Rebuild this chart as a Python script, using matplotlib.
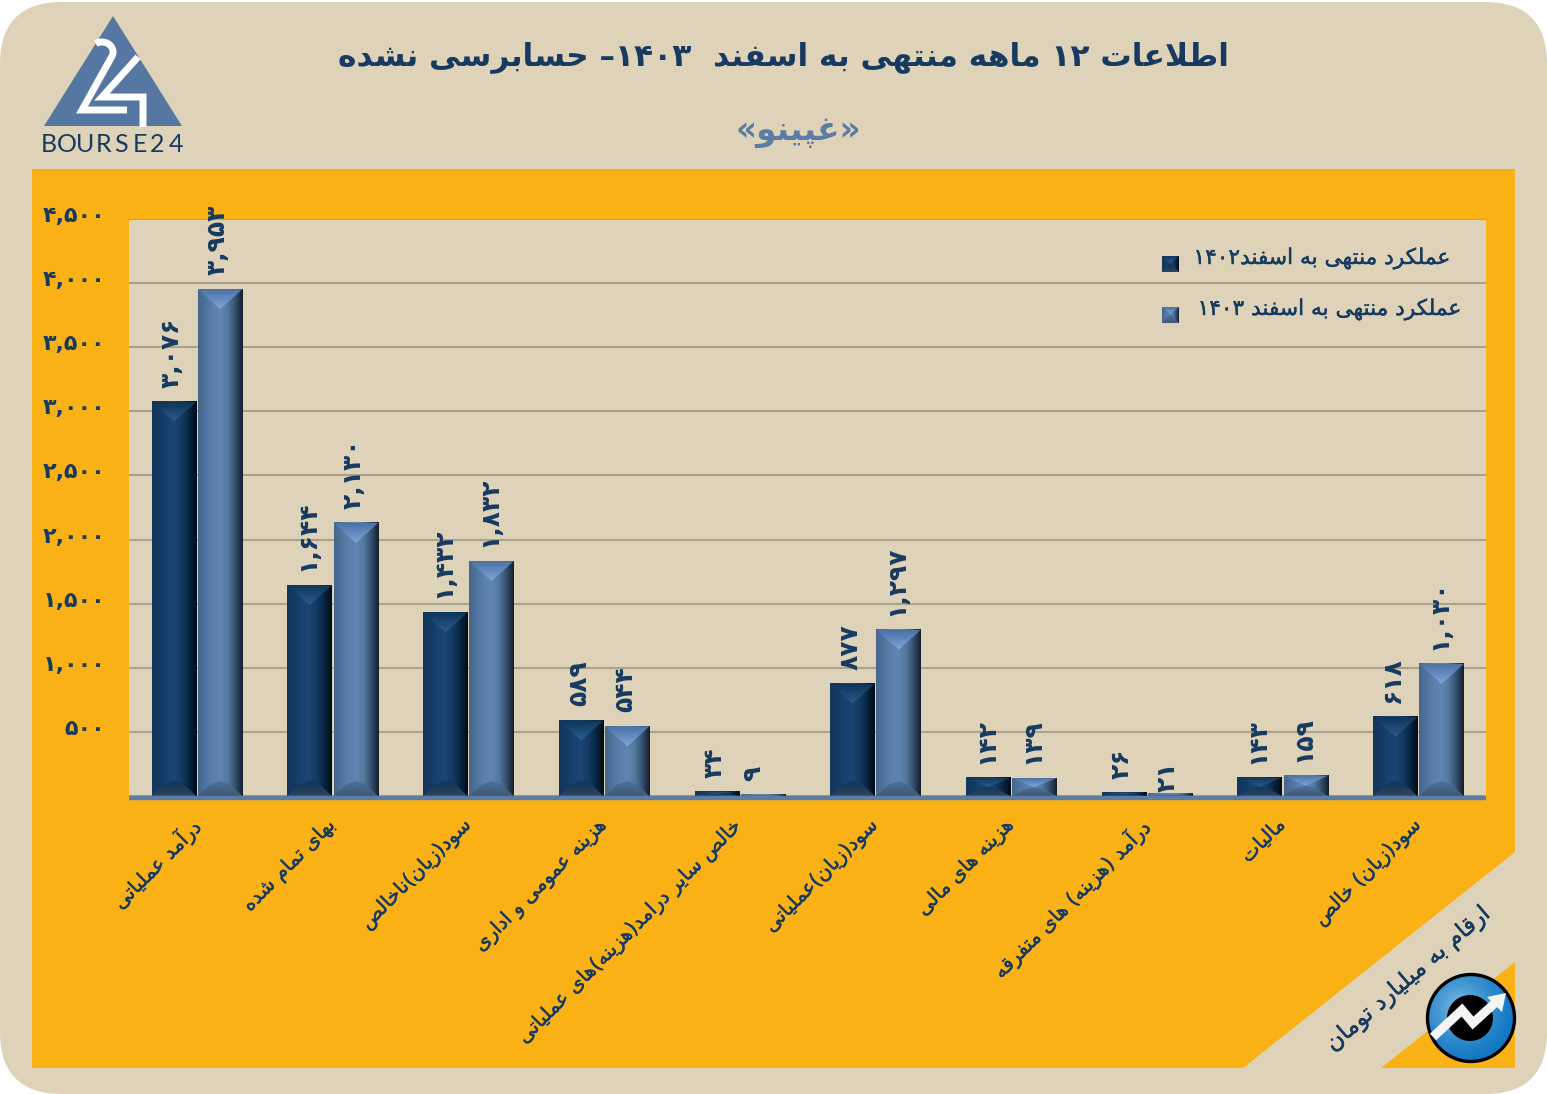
# Bourse24 style bar chart, 12 month figures (Persian labels)

import re
import numpy as np
import matplotlib
matplotlib.use('Agg')
import matplotlib.pyplot as plt
import matplotlib.patheffects as pe
from matplotlib.colors import to_rgb
from matplotlib.patches import Circle, FancyBboxPatch, Polygon
from matplotlib.transforms import ScaledTranslation

# === Data ===
title_text = 'اطلاعات ۱۲ ماهه منتهی به اسفند  ۱۴۰۳– حسابرسی نشده'
subtitle_text = '«غپینو»'
unit_text = 'ارقام به میلیارد تومان'
series_names = ['عملکرد منتهی به اسفند۱۴۰۲', 'عملکرد منتهی به اسفند ۱۴۰۳']
categories = [
    'درآمد عملیاتی',
    'بهای تمام شده',
    'سود(زیان)ناخالص',
    'هزینه عمومی و اداری',
    'خالص سایر درامد(هزینه)های عملیاتی',
    'سود(زیان)عملیاتی',
    'هزینه های مالی',
    'درآمد (هزینه) های متفرقه',
    'مالیات',
    'سود(زیان) خالص',
]
values_1402 = [3076, 1644, 1432, 589, 34, 877, 142, 26, 143, 618]
values_1403 = [3953, 2130, 1832, 544, 9, 1297, 139, 21, 159, 1030]
y_ticks = [0, 500, 1000, 1500, 2000, 2500, 3000, 3500, 4000, 4500]

# === Colours ===
BEIGE = '#DED3B8'
ORANGE = '#F9B115'
NAVY = '#173A60'
STEEL = '#5B7CA5'
GRID = '#A8A28F'

# === Persian shaping (matplotlib does not join Arabic letters) ===
# isolated, final, initial, medial
FORMS = {
    'ا': 'ﺍﺎ', 'آ': 'ﺁﺂ', 'د': 'ﺩﺪ', 'ر': 'ﺭﺮ', 'ز': 'ﺯﺰ', 'و': 'ﻭﻮ',
    'ب': 'ﺏﺐﺑﺒ', 'پ': 'ﭖﭗﭘﭙ', 'ت': 'ﺕﺖﺗﺘ', 'ح': 'ﺡﺢﺣﺤ', 'خ': 'ﺥﺦﺧﺨ',
    'س': 'ﺱﺲﺳﺴ', 'ش': 'ﺵﺶﺷﺸ', 'ص': 'ﺹﺺﺻﺼ', 'ط': 'ﻁﻂﻃﻄ', 'ع': 'ﻉﻊﻋﻌ',
    'غ': 'ﻍﻎﻏﻐ', 'ف': 'ﻑﻒﻓﻔ', 'ق': 'ﻕﻖﻗﻘ', 'ک': 'ﮎﮏﮐﮑ', 'ل': 'ﻝﻞﻟﻠ',
    'م': 'ﻡﻢﻣﻤ', 'ن': 'ﻥﻦﻧﻨ', 'ه': 'ﻩﻪﻫﻬ', 'ی': 'ﯼﯽﯾﯿ',
}
MIRROR = str.maketrans('()«»', ')(»«')


def shape(text):
    text = text.replace('لا', '\uFEFB')
    out = []
    for i, ch in enumerate(text):
        prev = text[i - 1] if i > 0 else ''
        nxt = text[i + 1] if i < len(text) - 1 else ''
        joins_prev = prev in FORMS and len(FORMS[prev]) == 4
        if ch == '\uFEFB':
            out.append('\uFEFC' if joins_prev else ch)
        elif ch in FORMS:
            f = FORMS[ch]
            joins_next = len(f) == 4 and (nxt in FORMS or nxt == '\uFEFB')
            if joins_prev and joins_next:
                out.append(f[3])
            elif joins_prev:
                out.append(f[1])
            elif joins_next:
                out.append(f[2])
            else:
                out.append(f[0])
        else:
            out.append(ch)
    vis = ''.join(out)[::-1].translate(MIRROR)
    # digits keep their left to right order
    return re.sub('[۰-۹,]+', lambda m: m.group(0)[::-1], vis)


def fa_num(v):
    return f'{v:,}'.translate(str.maketrans('0123456789', '۰۱۲۳۴۵۶۷۸۹'))


# === Gradient helpers ===
def ramp(stops, n=64):
    pos = np.linspace(0, 1, len(stops))
    rgb = np.array([to_rgb(c) for c in stops])
    t = np.linspace(0, 1, n)
    return np.stack([np.interp(t, pos, rgb[:, k]) for k in range(3)], axis=-1)


SIDE = {
    'dark': ['#14365A', '#123A64', '#174270', '#1A4472', '#133A62', '#082540', '#020C18'],
    'light': ['#46668C', '#50749E', '#5B80AB', '#5F85B1', '#54799F', '#34506F', '#151F2C'],
}
CAP = {'dark': ['#0F3558', '#2A5C8F'], 'light': ['#4A72A4', '#7EA6DD']}
FOOT = {'dark': ['#2E455E', '#0F3558'], 'light': ['#3F5874', '#4E719B']}
thicker = [pe.withStroke(linewidth=0.3, foreground=NAVY)]


def clipped_ramp(ax, pts, stops, extent, zorder):
    patch = Polygon(pts, closed=True, fc='none', ec='none', transform=ax.transData)
    ax.add_patch(patch)
    img = ramp(stops)[:, None, :]
    im = ax.imshow(img, extent=extent, aspect='auto', zorder=zorder, interpolation='bilinear')
    im.set_clip_path(patch)


def bevel_bar(ax, x0, x1, y0, y1, kind, px_x, px_y, depth=20, zorder=3):
    # px_x, px_y: axes units per image pixel
    ax.imshow(ramp(SIDE[kind])[None, :, :], extent=(x0, x1, y0, y1), aspect='auto',
              zorder=zorder, interpolation='bilinear')
    h_px = abs(y1 - y0) / abs(px_y)
    d = min(depth, h_px / 2) * px_y
    xc = (x0 + x1) / 2
    clipped_ramp(ax, [(x0, y1), (x1, y1), (xc, y1 - d)], CAP[kind], (x0, x1, y1 - d, y1), zorder + 0.1)
    f = min(15, h_px / 2) * px_y
    inset = min(12 * px_x, (x1 - x0) * 0.3)
    clipped_ramp(ax, [(x0, y0), (x1, y0), (x1 - inset, y0 + f * 0.75), (xc, y0 + f), (x0 + inset, y0 + f * 0.75)],
                 FOOT[kind][::-1], (x0, x1, y0, y0 + f), zorder + 0.1)


# === Figure and pixel-coordinate background ===
fig = plt.figure(figsize=(15.47, 10.94), dpi=100, facecolor='white')
bg = fig.add_axes([0, 0, 1, 1], zorder=0)
bg.set_xlim(0, 1547)
bg.set_ylim(1094, 0)
bg.axis('off')

bg.add_patch(FancyBboxPatch((62, 64), 1423, 968, boxstyle='round,pad=62,rounding_size=62',
                            fc=BEIGE, ec='none'))
bg.add_patch(Polygon([(32, 169), (1515, 169), (1515, 852), (1243, 1068), (32, 1068)], fc=ORANGE, ec='none'))
bg.add_patch(Polygon([(1515, 962), (1515, 1068), (1381, 1068)], fc=ORANGE, ec='none'))

bg.text(783, 57, shape(title_text), color=NAVY, fontsize=22.5, fontweight='bold', ha='center', va='center')
bg.text(798, 131, shape(subtitle_text), color=STEEL, fontsize=23.5, fontweight='bold', ha='center', va='center')

# === Logo ===
bg.add_patch(Polygon([(113, 16), (44, 126), (182, 126)], fc='#5577A2', ec='none'))
t = np.linspace(-2.4, 0.5, 30)
two_x = np.r_[102 + 11 * np.cos(t * 0.9), 82, 127]
two_y = np.r_[52 + 10 * np.sin(t * 0.9), 110, 110]
bg.plot(two_x, two_y, color='white', lw=5, solid_joinstyle='miter', solid_capstyle='butt')
bg.plot([138, 102, 143, 143], [57, 97, 97, 127], color='white', lw=5, solid_joinstyle='miter', solid_capstyle='butt')
for i, ch in enumerate('BOURSE24'):
    bg.text(49 + i * 18.1, 145, ch, color=NAVY, fontsize=18, family='Lato', ha='center', va='center')

# === Main chart ===
ax = fig.add_axes([129 / 1547, 1 - 796 / 1094, (1486 - 129) / 1547, (796 - 219) / 1094], zorder=1)
ax.set_facecolor(BEIGE)
# moving a spine resets its axis, so this comes before the ticks
for s in ('left', 'right', 'top'):
    ax.spines[s].set_visible(False)
ax.spines['bottom'].set_color(STEEL)
ax.spines['bottom'].set_linewidth(3.2)
ax.spines['bottom'].set_position(('outward', 1.6))
ax.spines['bottom'].set_capstyle('butt')
ax.spines['bottom'].set_zorder(8)

x = np.arange(len(categories))
bar_w = 0.328
gap = 0.17
bars_a = ax.bar(x - gap + 0.002, values_1402, bar_w, color='none')
bars_b = ax.bar(x + gap + 0.002, values_1403, bar_w, color='none')

px_x = len(categories) / (1486 - 129)
px_y = 4500 / (796 - 219)
for bars, kind in ((bars_a, 'dark'), (bars_b, 'light')):
    for b in bars:
        bevel_bar(ax, b.get_x(), b.get_x() + b.get_width(), 0, b.get_height(), kind, px_x, px_y)

# data labels, rotated; the small ones were nudged by hand in the source
for bars, vals in ((bars_a, values_1402), (bars_b, values_1403)):
    for b, v in zip(bars, vals):
        nudge_x = -2
        nudge_y = 14
        if v == 9:
            nudge_x = -10
        if v == 21:
            nudge_y = 1
        ax.annotate(fa_num(v), (b.get_x() + b.get_width() / 2, v), xytext=(nudge_x * 0.72, nudge_y * 0.72),
                    textcoords='offset points', rotation=90, ha='center', va='bottom',
                    color=NAVY, fontsize=18, fontweight='bold', annotation_clip=False, zorder=6)

ax.set_xlim(-0.5, len(categories) - 0.5)
ax.set_ylim(0, 4500)
ax.set_yticks(y_ticks)
ax.set_yticklabels([''] + [fa_num(v) for v in y_ticks[1:]], color=NAVY, fontsize=16, fontweight='bold')
ax.set_xticks(x - 0.05)
ax.set_xticklabels([shape(c) for c in categories], rotation=45, ha='right', va='top',
                   rotation_mode='anchor', color=NAVY, fontsize=14.3, path_effects=thicker)
ax.tick_params(axis='x', length=0, pad=12)
ax.tick_params(axis='y', length=0, pad=17)
up = ScaledTranslation(0, 5 / 72 * 0.72 * 1.0, fig.dpi_scale_trans)
for lab in ax.get_yticklabels():
    lab.set_transform(lab.get_transform() + up)
ax.grid(axis='y', color=GRID, lw=1.5, zorder=1)
ax.set_axisbelow(True)

# === Overlay: legend, unit note, icon ===
over = fig.add_axes([0, 0, 1, 1], zorder=5)
over.patch.set_alpha(0)
over.axis('off')

for name, kind, ty, right, sy in ((series_names[0], 'dark', 258, 1449, 272), (series_names[1], 'light', 309, 1460, 323)):
    bevel_bar(over, 1162, 1179, sy, sy - 16, kind, 1, -1, depth=7, zorder=3)
    over.text(right, ty, shape(name), color=NAVY, fontsize=15.6, ha='right', va='center', path_effects=thicker)

over.text(1408, 980, shape(unit_text), color=NAVY, fontsize=16.7, rotation=40.7,
          rotation_mode='anchor', ha='center', va='center', path_effects=thicker)

# icon with radial blue fill
yy, xx = np.mgrid[-1:1:128j, -1:1:128j]
rr = np.clip(np.hypot(xx + 0.25, yy + 0.25) / 1.2, 0, 1)
disc = np.empty(rr.shape + (3,))
for k, (c0, c1) in enumerate(zip(to_rgb('#A9D8F0'), to_rgb('#1378C4'))):
    disc[..., k] = c0 + (c1 - c0) * np.sqrt(rr)
icon = Circle((1471, 1018), 43.5, fc='none', ec='black', lw=2.4, transform=over.transData, zorder=8)
over.add_patch(icon)
im = over.imshow(disc, extent=(1427, 1515, 1062, 974), aspect='auto', zorder=7, interpolation='bilinear')
im.set_clip_path(Circle((1471, 1018), 43.5, transform=over.transData))
over.add_patch(Circle((1470, 1018), 23, fc='black', ec='none', zorder=8))
over.plot([1433, 1462, 1473, 1495], [1037, 1010, 1023, 1003], color='#F4F6F6', lw=6.5,
          solid_joinstyle='miter', solid_capstyle='butt', zorder=9)
over.add_patch(Polygon([(1487, 997), (1506, 993), (1502, 1012)], fc='#F4F6F6', ec='none', zorder=9))

over.set_xlim(0, 1547)
over.set_ylim(1094, 0)
ax.set_xlim(-0.5, len(categories) - 0.5)
ax.set_ylim(0, 4500)

fig.savefig('out.png', dpi=100, facecolor='white')
